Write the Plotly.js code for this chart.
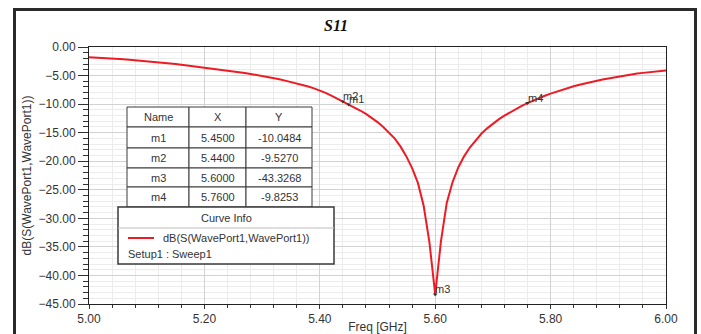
<!DOCTYPE html>
<html>
<head>
<meta charset="utf-8">
<script src="https://cdn.plot.ly/plotly-3.0.1.min.js"></script>
<style>html,body{margin:0;padding:0;background:#fff;}#chart{width:701px;height:334px;}</style>
</head>
<body>
<div id="chart"></div>
<script>
// ---- data ----
const freq = [5.00,5.01,5.02,5.03,5.04,5.05,5.06,5.07,5.08,5.09,
  5.10,5.11,5.12,5.13,5.14,5.15,5.16,5.17,5.18,5.19,
  5.20,5.21,5.22,5.23,5.24,5.25,5.26,5.27,5.28,5.29,
  5.30,5.31,5.32,5.33,5.34,5.35,5.36,5.37,5.38,5.39,
  5.40,5.41,5.42,5.43,5.44,5.45,5.46,5.47,5.48,5.49,
  5.50,5.51,5.52,5.53,5.54,5.55,5.56,5.57,5.58,5.59,
  5.60,5.61,5.62,5.63,5.64,5.65,5.66,5.67,5.68,5.69,
  5.70,5.71,5.72,5.73,5.74,5.75,5.76,5.77,5.78,5.79,
  5.80,5.81,5.82,5.83,5.84,5.85,5.86,5.87,5.88,5.89,
  5.90,5.91,5.92,5.93,5.94,5.95,5.96,5.97,5.98,5.99,6.00];
const s11dB = [-1.80,-1.84,-1.89,-1.95,-2.01,-2.08,-2.15,-2.23,-2.31,-2.39,
  -2.48,-2.57,-2.66,-2.76,-2.86,-2.98,-3.10,-3.22,-3.34,-3.46,
  -3.58,-3.71,-3.84,-3.97,-4.11,-4.25,-4.40,-4.55,-4.71,-4.88,
  -5.06,-5.25,-5.45,-5.66,-5.89,-6.12,-6.37,-6.64,-6.93,-7.25,
  -7.62,-8.04,-8.51,-9.01,-9.527,-10.048,-10.58,-11.12,-11.72,-12.40,
  -13.15,-14.00,-14.95,-16.05,-17.45,-19.15,-21.20,-23.80,-27.80,-34.20,
  -43.3268,-34.00,-27.30,-23.70,-21.10,-19.15,-17.60,-16.30,-15.20,-14.25,
  -13.42,-12.68,-12.01,-11.40,-10.84,-10.32,-9.8253,-9.36,-8.93,-8.53,
  -8.16,-7.81,-7.48,-7.17,-6.88,-6.61,-6.36,-6.13,-5.91,-5.70,
  -5.50,-5.31,-5.13,-4.96,-4.80,-4.66,-4.53,-4.41,-4.30,-4.20,-4.10];
const markerNames = ['m1','m2','m3','m4'];
const markerX = [5.45, 5.44, 5.60, 5.76];
const markerY = [-10.0484, -9.5270, -43.3268, -9.8253];
const tableHeader = ['Name','X','Y'];
const curveName = 'dB(S(WavePort1,WavePort1))';
const setupName = 'Setup1 : Sweep1';

// ---- layout helpers (pixel -> paper) ----
const W = 701, H = 334, ML = 89, MR = 35, MT = 47, MB = 30;
const PW = W - ML - MR, PH = H - MT - MB;
const px = x => (x - ML) / PW;
const py = y => (H - MB - y) / PH;
const FONT = 'Liberation Sans, Arial, sans-serif';
const TXT = '#333333';

const shapes = [];
const annotations = [];

// outer frame
shapes.push({type:'rect', xref:'paper', yref:'paper', x0:px(14.5), x1:px(695.5), y0:py(345), y1:py(9.5),
  line:{color:'#2b2b2b', width:3}, fillcolor:'rgba(0,0,0,0)', layer:'below'});

// marker table
const cols = [127, 189, 246, 312];
const rows = [107, 127, 148, 168, 187, 207];
const tableRows = [tableHeader].concat(markerNames.map((n, i) => [n, markerX[i].toFixed(4), markerY[i].toFixed(4)]));
tableRows.forEach((r, ri) => {
  r.forEach((t, ci) => {
    shapes.push({type:'rect', xref:'paper', yref:'paper', x0:px(cols[ci]), x1:px(cols[ci+1]),
      y0:py(rows[ri+1]), y1:py(rows[ri]), line:{color:'#3a3a3a', width:1}, fillcolor:'#ffffff', layer:'above'});
    annotations.push({xref:'paper', yref:'paper', x:px((cols[ci]+cols[ci+1])/2), y:py((rows[ri]+rows[ri+1])/2),
      text:t, showarrow:false, xanchor:'center', yanchor:'middle', font:{family:FONT, size:11, color:TXT}});
  });
});

// curve info box
shapes.push({type:'rect', xref:'paper', yref:'paper', x0:px(118), x1:px(334), y0:py(264), y1:py(207),
  line:{color:'#3a3a3a', width:1.5}, fillcolor:'#ffffff', layer:'above'});
shapes.push({type:'line', xref:'paper', yref:'paper', x0:px(118), x1:px(334), y0:py(228), y1:py(228),
  line:{color:'#bdbdbd', width:1}, layer:'above'});
shapes.push({type:'line', xref:'paper', yref:'paper', x0:px(128), x1:px(154), y0:py(238), y1:py(238),
  line:{color:'rgb(237,28,36)', width:2}, layer:'above'});
annotations.push({xref:'paper', yref:'paper', x:px(226), y:py(218), text:'Curve Info', showarrow:false,
  xanchor:'center', yanchor:'middle', font:{family:FONT, size:11, color:TXT}});
annotations.push({xref:'paper', yref:'paper', x:px(161), y:py(238), text:curveName, showarrow:false,
  xanchor:'left', yanchor:'middle', font:{family:FONT, size:11, color:TXT}});
annotations.push({xref:'paper', yref:'paper', x:px(126), y:py(254), text:setupName, showarrow:false,
  xanchor:'left', yanchor:'middle', font:{family:FONT, size:11, color:TXT}});

// marker labels
markerNames.forEach((n, i) => {
  annotations.push({x:markerX[i], y:markerY[i], xref:'x', yref:'y', text:n, showarrow:false,
    xanchor:'left', yanchor:'middle', xshift:-2, yshift:5, font:{family:FONT, size:11, color:'#333'}});
});

const trace = {x:freq, y:s11dB, type:'scatter', mode:'lines',
  line:{color:'rgb(237,28,36)', width:2}, hoverinfo:'x+y', showlegend:false};
const markerTrace = {x:markerX, y:markerY, type:'scatter', mode:'markers',
  marker:{symbol:'triangle-down', size:4, color:'#333'}, showlegend:false, hoverinfo:'skip'};

const layout = {
  width: W, height: H,
  margin: {l:ML, r:MR, t:MT, b:MB, pad:0},
  paper_bgcolor:'#ffffff', plot_bgcolor:'#ffffff',
  showlegend:false,
  title: {text:'S11', x:336/W, xref:'container', xanchor:'center', y:1-25/H, yref:'container', yanchor:'middle',
    font:{family:'Liberation Serif, Times New Roman, serif', size:16, color:'#111', weight:'bold', style:'italic'}},
  xaxis: {range:[5,6], autorange:false, tick0:5, dtick:0.2, tickformat:'.2f',
    ticks:'outside', ticklen:4, tickcolor:'#333', showline:true, linecolor:'#222', linewidth:1, mirror:true,
    showgrid:true, gridcolor:'#d2d2d2', gridwidth:1, zeroline:false,
    minor:{dtick:0.04, showgrid:true, gridcolor:'#ececec', ticks:'outside', ticklen:3, tickcolor:'#333'},
    tickfont:{family:FONT, size:12, color:TXT},
    title:{text:'Freq [GHz]', standoff:2, font:{family:FONT, size:12, color:TXT}}, automargin:false},
  yaxis: {range:[-45,0], autorange:false, tick0:0, dtick:5, tickformat:'.2f',
    ticks:'outside', ticklen:10, tickcolor:'#333', showline:true, linecolor:'#222', linewidth:1, mirror:true,
    showgrid:true, gridcolor:'#d2d2d2', gridwidth:1, zeroline:false,
    minor:{dtick:1, showgrid:true, gridcolor:'#ececec', ticks:'outside', ticklen:5, tickcolor:'#333'},
    tickfont:{family:FONT, size:12, color:TXT},
    title:{text:'dB(S(WavePort1,WavePort1))', standoff:4, font:{family:FONT, size:12, color:TXT}}, automargin:false},
  shapes: shapes,
  annotations: annotations
};

Plotly.newPlot('chart', [trace, markerTrace], layout, {displayModeBar:false, staticPlot:true});
</script>
</body>
</html>
